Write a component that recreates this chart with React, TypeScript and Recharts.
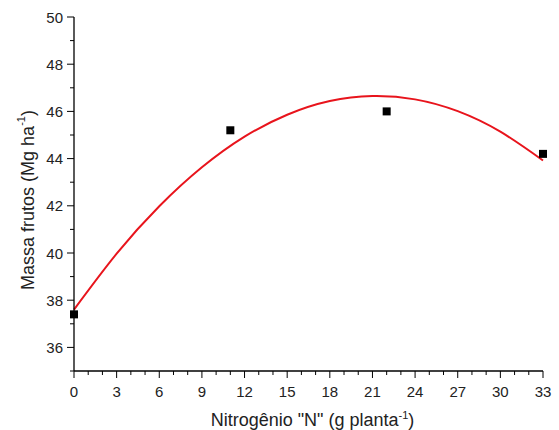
import { ComposedChart, Line, Scatter, XAxis, YAxis, Label } from "recharts";

// observed means
const doseN = [0, 11, 22, 33];
const massaObs = [37.4, 45.2, 46.0, 44.2];

// fitted curve
const curveX = [0, 3, 6, 9, 12, 15, 18, 21, 24, 27, 30, 33];
const curveY = [37.6, 39.97, 41.98, 43.63, 44.93, 45.86, 46.44, 46.65, 46.51, 46.01, 45.14, 43.92];

const xTicks = Array.from({ length: 34 }, (_, i) => i);
const yTicks = Array.from({ length: 16 }, (_, i) => 35 + i);

const pointData = doseN.map((n, i) => ({ n, massa: massaObs[i] }));
const curveData = curveX.map((n, i) => ({ n, ajuste: curveY[i] }));

const FONT = "'Liberation Sans', Arial, sans-serif";

const XTick = (props: any) => {
  const { x, y, payload } = props;
  const major = payload.value % 3 === 0;
  return (
    <g>
      <line x1={x} x2={x} y1={y} y2={y + (major ? 7 : 4)} stroke="#000" strokeWidth={1} />
      {major && (
        <text x={x} y={y + 20} textAnchor="middle" dominantBaseline="central" fontSize={15} fontFamily={FONT} fill="#222">
          {payload.value}
        </text>
      )}
    </g>
  );
};

const YTick = (props: any) => {
  const { x, y, payload } = props;
  const major = payload.value % 2 === 0;
  return (
    <g>
      <line x1={x - (major ? 7 : 4)} x2={x} y1={y} y2={y} stroke="#000" strokeWidth={1} />
      {major && (
        <text x={x - 11} y={y} textAnchor="end" dominantBaseline="central" fontSize={15} fontFamily={FONT} fill="#222">
          {payload.value}
        </text>
      )}
    </g>
  );
};

const Square = (props: any) => {
  const { cx, cy } = props;
  return <rect x={cx - 4} y={cy - 4} width={8} height={8} fill="#000" />;
};

const XTitle = (props: any) => {
  const { viewBox } = props;
  const cx = viewBox.x + viewBox.width / 2 + 4;
  return (
    <text x={cx} y={viewBox.y + 55} textAnchor="middle" fontSize={18} fontFamily={FONT} fill="#222">
      Nitrogênio "N" (g planta
      <tspan dy={-7} fontSize={11}>-1</tspan>
      <tspan dy={7}>)</tspan>
    </text>
  );
};

const YTitle = (props: any) => {
  const { viewBox } = props;
  const cx = viewBox.x + 14;
  const cy = viewBox.y + viewBox.height / 2 + 6;
  return (
    <text x={cx} y={cy} transform={`rotate(-90 ${cx} ${cy})`} textAnchor="middle" dominantBaseline="central" fontSize={18} fontFamily={FONT} fill="#222">
      Massa frutos (Mg ha
      <tspan dy={-7} fontSize={11}>-1</tspan>
      <tspan dy={7}>)</tspan>
    </text>
  );
};

export default function App() {
  return (
    <div style={{ position: "absolute", left: 0, top: 0, background: "#fff" }}>
      <ComposedChart width={559} height={430} margin={{ top: 17, right: 16, bottom: 29, left: 14 }}>
        <XAxis
          dataKey="n"
          type="number"
          domain={[0, 33]}
          ticks={xTicks}
          interval={0}
          tick={<XTick />}
          tickLine={false}
          tickSize={0}
          tickMargin={0}
          height={30}
          axisLine={{ stroke: "#000", strokeWidth: 1.3 }}
          allowDuplicatedCategory={false}
        >
          <Label content={<XTitle />} />
        </XAxis>
        <YAxis
          type="number"
          domain={[35, 50]}
          ticks={yTicks}
          interval={0}
          tick={<YTick />}
          tickLine={false}
          tickSize={0}
          tickMargin={0}
          width={60}
          axisLine={{ stroke: "#000", strokeWidth: 1.3 }}
        >
          <Label content={<YTitle />} />
        </YAxis>
        <Line
          data={curveData}
          dataKey="ajuste"
          type="natural"
          stroke="#e8141c"
          strokeWidth={2}
          dot={false}
          isAnimationActive={false}
        />
        <Scatter data={pointData} dataKey="massa" shape={<Square />} isAnimationActive={false} />
      </ComposedChart>
    </div>
  );
}
